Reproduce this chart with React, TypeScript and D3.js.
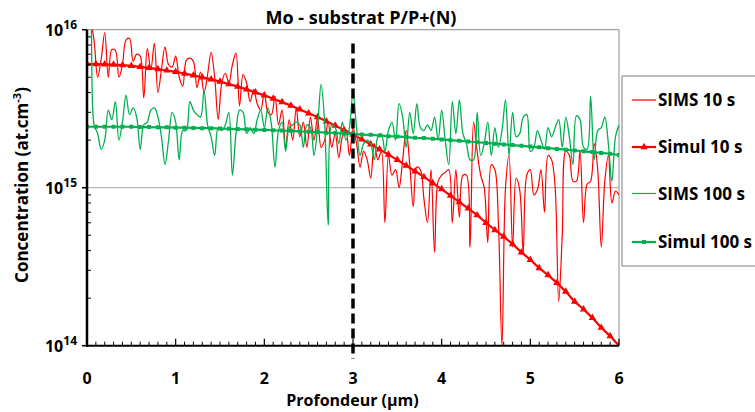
import React from "react";
import * as d3 from "d3";

const TITLE = "Mo - substrat P/P+(N)";
const X_TITLE = "Profondeur (µm)";
const Y_TITLE = "Concentration (at.cm";
const Y_TITLE_SUP = "-3";
const Y_TITLE_END = ")";

const X_TICKS = [0, 1, 2, 3, 4, 5, 6];
const Y_TICKS = [1e14, 1e15, 1e16];
const Y_TICK_EXP = ["14", "15", "16"];
const MARKER_LINE_X = 3;

const SERIES_NAMES = ["SIMS 10 s", "Simul 10 s", "SIMS 100 s", "Simul 100 s"];

// SIMS depth grid (µm)
const SIMS_STEP = 0.04;
// values in units of 1e15 at.cm-3
const SIMS_10S = [
  14, 11.5, 8.5, 5.0, 6.5, 9.6, 5.0, 7.5, 7.4, 5.0,
  6.0, 8.6, 8.8, 6.3, 7.0, 6.8, 3.7, 7.6, 5.6, 8.2,
  4.0, 5.6, 7.8, 6.0, 5.8, 6.8, 5.0, 4.4, 6.4, 6.6,
  6.3, 4.3, 5.4, 4.0, 5.2, 7.2, 5.0, 2.7, 4.6, 5.3,
  4.6, 6.0, 7.1, 3.3, 5.2, 4.6, 3.5, 4.2, 3.4, 3.1,
  4.0, 3.0, 2.9, 3.8, 2.5, 3.1, 1.8, 2.7, 2.0, 3.2,
  2.1, 2.6, 1.8, 2.8, 2.0, 2.8, 1.8, 2.0, 2.6, 1.8,
  2.2, 1.55, 2.1, 2.3, 1.6, 2.4, 1.9, 1.35, 1.7, 1.5,
  1.15, 1.9, 1.5, 1.7, 0.6, 1.6, 1.2, 1.3, 1.0, 1.5,
  2.3, 1.4, 0.76, 1.35, 1.3, 0.85, 0.6, 1.3, 0.39, 1.1,
  1.2, 1.25, 1.3, 0.6, 1.3, 0.65, 1.2, 1.2, 0.42, 2.6,
  1.7, 1.2, 1.0, 0.45, 1.4, 1.3, 0.6, 0.1, 1.0, 1.6,
  0.42, 1.15, 0.97, 0.39, 1.2, 1.3, 0.9, 0.97, 1.3, 0.7,
  1.6, 1.5, 1.0, 0.19, 0.5, 1.7, 1.6, 1.1, 1.1, 1.7,
  0.6, 1.05, 1.1, 1.9, 1.3, 0.42, 1.1, 1.6, 0.8, 0.95,
  0.9,
];
const SIMS_100S = [
  20, 14, 2.5, 2.2, 1.75, 2.0, 3.1, 2.7, 3.5, 2.0,
  2.6, 3.85, 2.9, 3.2, 2.8, 1.75, 2.5, 2.6, 3.1, 3.2,
  2.8, 2.1, 1.4, 2.0, 3.0, 2.6, 1.5, 2.3, 2.3, 3.5,
  3.1, 2.9, 2.8, 4.1, 2.5, 2.1, 1.6, 2.4, 2.3, 2.5,
  3.0, 1.2, 2.2, 3.1, 3.0, 2.2, 2.4, 2.2, 2.7, 3.1,
  2.4, 3.2, 2.5, 1.35, 2.3, 2.6, 1.7, 2.4, 2.5, 2.6,
  2.5, 1.8, 2.5, 2.4, 1.6, 2.4, 4.5, 2.6, 0.58, 2.5,
  2.4, 1.9, 2.6, 2.0, 2.4, 4.0, 2.4, 1.6, 1.9, 2.0,
  1.9, 1.5, 2.1, 2.2, 1.7, 2.3, 2.6, 2.0, 3.4, 2.8,
  1.8, 3.0, 2.2, 3.4, 2.4, 2.3, 2.5, 2.3, 2.8, 2.0,
  3.1, 2.0, 1.4, 3.5, 2.2, 3.6, 2.2, 1.9, 1.5, 1.5,
  3.0, 1.6, 1.9, 2.6, 1.6, 2.4, 1.8, 2.3, 3.6, 1.6,
  3.0, 2.1, 2.2, 2.8, 2.9, 1.7, 1.8, 2.3, 2.0, 1.75,
  2.4, 2.1, 2.4, 2.7, 1.8, 2.8, 2.1, 1.4, 2.85, 2.7,
  1.8, 1.75, 3.8, 1.5, 2.3, 2.4, 2.8, 1.9, 1.1, 2.1,
  2.5,
];

// Simulation depth grid (µm)
const SIMUL_STEP = 0.1;
const SIMUL_10S = [
  6.07, 6.06, 6.04, 6.01, 5.96, 5.90, 5.82, 5.74, 5.63, 5.52,
  5.41, 5.28, 5.14, 5.00, 4.85, 4.69, 4.53, 4.36, 4.19, 4.01,
  3.84, 3.66, 3.48, 3.31, 3.13, 2.96, 2.80, 2.63, 2.47, 2.32,
  2.17, 2.02, 1.88, 1.75, 1.62, 1.50, 1.38, 1.27, 1.17, 1.07,
  0.98, 0.89, 0.81, 0.74, 0.67, 0.60, 0.54, 0.49, 0.44, 0.39,
  0.35, 0.31, 0.28, 0.25, 0.22, 0.19, 0.17, 0.15, 0.13, 0.115,
  0.10,
];
const SIMUL_100S = [
  2.43, 2.43, 2.43, 2.43, 2.43, 2.43, 2.42, 2.42, 2.41, 2.41,
  2.40, 2.40, 2.39, 2.38, 2.38, 2.37, 2.36, 2.35, 2.34, 2.33,
  2.32, 2.31, 2.30, 2.29, 2.27, 2.26, 2.25, 2.23, 2.22, 2.20,
  2.19, 2.17, 2.16, 2.14, 2.12, 2.11, 2.09, 2.07, 2.06, 2.04,
  2.02, 2.00, 1.98, 1.96, 1.94, 1.92, 1.90, 1.88, 1.86, 1.84,
  1.82, 1.80, 1.78, 1.76, 1.74, 1.72, 1.70, 1.68, 1.66, 1.64,
  1.61,
];
const UNIT = 1e15;

const W = 755;
const H = 412;
const M = { left: 87, right: 619, top: 29.7, bottom: 345.7 };
const RED = "#FF0000";
const GREEN = "#00B050";
const FONT = "'Open Sans', sans-serif";

export default function App() {
  const x = d3.scaleLinear().domain([0, 6]).range([M.left, M.right]);
  const y = d3.scaleLog().domain([1e14, 1e16]).range([M.bottom, M.top]);

  const toPts = (vals: number[], step: number) =>
    vals.map((v, i) => [x(i * step), y(v * UNIT)] as [number, number]);

  const smooth = d3.line().curve(d3.curveCatmullRom.alpha(0.5));
  const straight = d3.line();

  const sims10 = toPts(SIMS_10S, SIMS_STEP);
  const sims100 = toPts(SIMS_100S, SIMS_STEP);
  const simul10 = toPts(SIMUL_10S, SIMUL_STEP);
  const simul100 = toPts(SIMUL_100S, SIMUL_STEP);

  const tri = d3.symbol().type(d3.symbolTriangle).size(24)() as string;
  const sq = d3.symbol().type(d3.symbolSquare).size(16)() as string;

  const minorX = d3.range(0, 61).map((i) => i / 10).filter((v) => Math.abs(v - Math.round(v)) > 1e-6);
  const minorY: number[] = [];
  [1e14, 1e15].forEach((d) => {
    for (let k = 2; k <= 9; k++) minorY.push(d * k);
  });

  const legendY = [100, 147, 193.5, 242];

  return (
    <div style={{ position: "absolute", left: 0, top: 0 }}>
      <svg width={W} height={H} style={{ display: "block", background: "#fff" }}>
        <defs>
          <clipPath id="plot">
            <rect x={M.left} y={M.top} width={M.right - M.left} height={M.bottom - M.top} />
          </clipPath>
        </defs>
        {/* plot frame */}
        <line x1={M.left} x2={M.right} y1={M.top} y2={M.top} stroke="#8c8c8c" strokeWidth={1} />
        <line x1={M.right} x2={M.right} y1={M.top} y2={M.bottom} stroke="#8c8c8c" strokeWidth={1} />
        {/* grid line at 1e15 */}
        <line x1={M.left - 5} x2={M.right} y1={y(1e15)} y2={y(1e15)} stroke="#a6a6a6" strokeWidth={1} />

        <g clipPath="url(#plot)">
          <path d={smooth(sims10) || ""} fill="none" stroke={RED} strokeWidth={1.2} />
          <path d={straight(simul10) || ""} fill="none" stroke={RED} strokeWidth={2.2} />
          {simul10.map((p, i) => (
            <path key={"t" + i} d={tri} transform={`translate(${p[0]},${p[1]})`} fill={RED} />
          ))}
          <path d={smooth(sims100) || ""} fill="none" stroke={GREEN} strokeWidth={1.3} />
          <path d={straight(simul100) || ""} fill="none" stroke={GREEN} strokeWidth={2.2} />
          {simul100.map((p, i) => (
            <path key={"s" + i} d={sq} transform={`translate(${p[0]},${p[1]})`} fill={GREEN} />
          ))}
        </g>

        {/* axes */}
        <line x1={M.left} x2={M.left} y1={M.top} y2={M.bottom + 1} stroke="#000" strokeWidth={2.5} />
        <line x1={M.left} x2={M.right} y1={M.bottom} y2={M.bottom} stroke="#000" strokeWidth={2} />
        {minorY.map((v, i) => (
          <line key={"my" + i} x1={M.left} x2={M.left + 4} y1={y(v)} y2={y(v)} stroke="#000" strokeWidth={1} />
        ))}
        {Y_TICKS.map((v, i) => (
          <line key={"My" + i} x1={M.left - 5} x2={M.left} y1={y(v)} y2={y(v)} stroke="#000" strokeWidth={1.5} />
        ))}
        {minorX.map((v, i) => (
          <line key={"mx" + i} x1={x(v)} x2={x(v)} y1={M.bottom} y2={M.bottom - 4} stroke="#000" strokeWidth={1} />
        ))}
        {X_TICKS.map((v, i) => (
          <line key={"Mx" + i} x1={x(v)} x2={x(v)} y1={M.bottom} y2={M.bottom - 7} stroke="#000" strokeWidth={1.2} />
        ))}

        {/* vertical dashed marker */}
        <line
          x1={x(MARKER_LINE_X)}
          x2={x(MARKER_LINE_X)}
          y1={43.5}
          y2={359}
          stroke="#000"
          strokeWidth={3.5}
          strokeDasharray="10 5"
        />

        {/* tick labels */}
        {X_TICKS.map((v, i) => (
          <text key={"xl" + i} x={x(v)} y={384} textAnchor="middle" fontFamily={FONT} fontWeight={700} fontSize={16} fill="#000">
            {v}
          </text>
        ))}
        {Y_TICKS.map((v, i) => (
          <text key={"yl" + i} x={77} y={y(v) + 6} textAnchor="end" fontFamily={FONT} fontWeight={700} fontSize={16} fill="#000">
            <tspan>10</tspan>
            <tspan dy={-7} fontSize={12}>{Y_TICK_EXP[i]}</tspan>
          </text>
        ))}

        {/* titles */}
        <text x={361} y={24} textAnchor="middle" fontFamily={FONT} fontWeight={700} fontSize={18} fill="#000">
          {TITLE}
        </text>
        <text x={352.5} y={406} textAnchor="middle" fontFamily={FONT} fontWeight={700} fontSize={16} fill="#000">
          {X_TITLE}
        </text>
        <text
          transform={`translate(27.5,185) rotate(-90)`}
          textAnchor="middle"
          fontFamily={FONT}
          fontWeight={700}
          fontSize={17}
          fill="#000"
        >
          <tspan>{Y_TITLE}</tspan>
          <tspan dy={-7} fontSize={11}>{Y_TITLE_SUP}</tspan>
          <tspan dy={7}>{Y_TITLE_END}</tspan>
        </text>

        {/* legend */}
        <rect x={622} y={76} width={200} height={190} fill="#fff" stroke="#7f7f7f" strokeWidth={1} />
        {SERIES_NAMES.map((name, i) => {
          const ly = legendY[i];
          const color = i < 2 ? RED : GREEN;
          const thick = i % 2 === 1;
          return (
            <g key={"lg" + i}>
              <line x1={632} x2={656} y1={ly} y2={ly} stroke={color} strokeWidth={thick ? 2.2 : 1.2} />
              {i === 1 && <path d={tri} transform={`translate(644,${ly})`} fill={color} />}
              {i === 3 && <path d={sq} transform={`translate(644,${ly})`} fill={color} />}
              <text x={658} y={ly + 6} fontFamily={FONT} fontWeight={700} fontSize={17} fill="#000">
                {name}
              </text>
            </g>
          );
        })}
      </svg>
    </div>
  );
}
